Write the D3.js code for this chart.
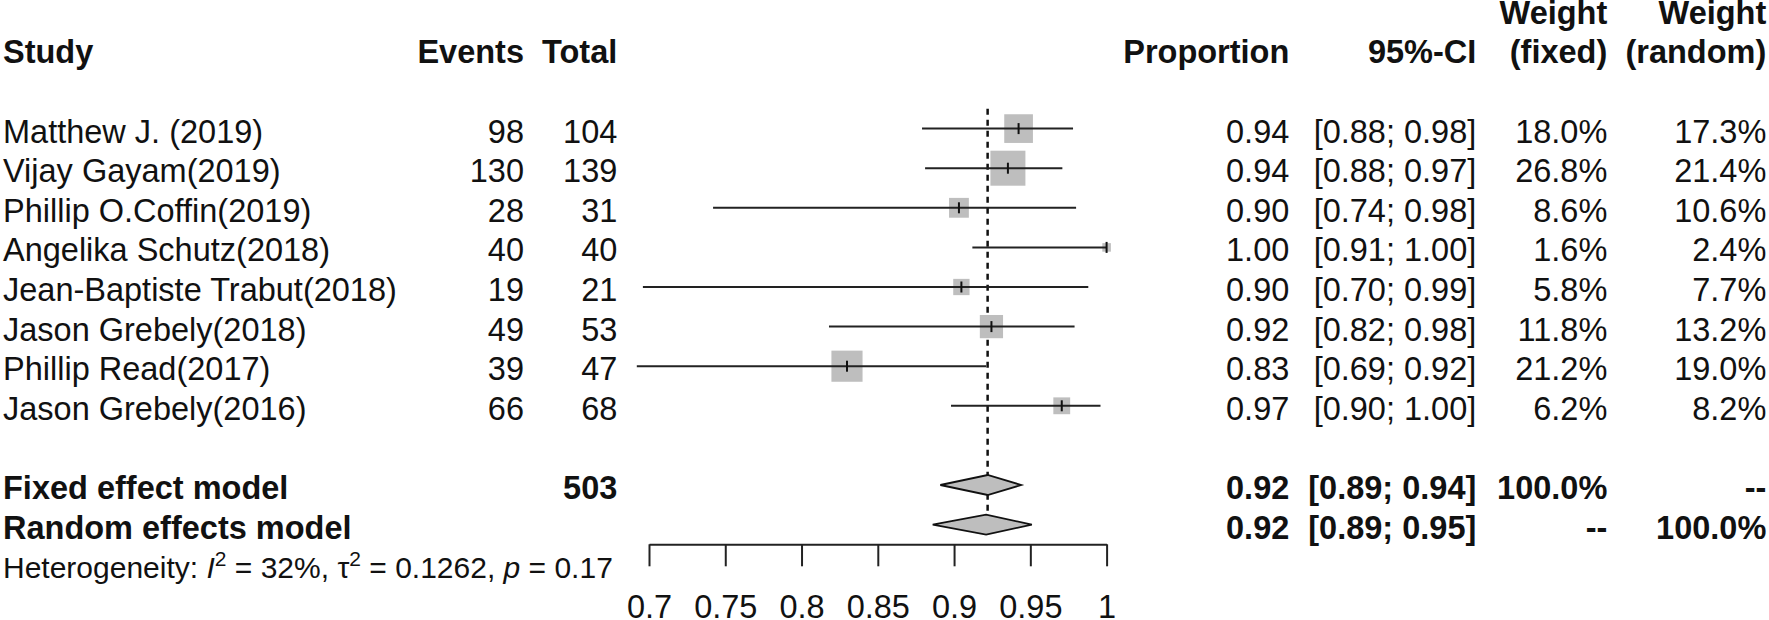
<!DOCTYPE html>
<html lang="en">
<head>
<meta charset="utf-8">
<title>Forest plot</title>
<script src="https://cdn.jsdelivr.net/npm/d3@7"></script>
<style>
  body { margin: 0; background: white; }
  svg text { font-family: "Liberation Sans", Arial, sans-serif; fill: #111; }
  .hdr { font-weight: bold; }
  .bold { font-weight: bold; }
</style>
</head>
<body>
<svg id="chart" width="1769" height="620"></svg>
<script>
// study data
const studies = ["Matthew J. (2019)", "Vijay Gayam(2019)", "Phillip O.Coffin(2019)", "Angelika Schutz(2018)",
                 "Jean-Baptiste Trabut(2018)", "Jason Grebely(2018)", "Phillip Read(2017)", "Jason Grebely(2016)"];
const events = [98, 130, 28, 40, 19, 49, 39, 66];
const totals = [104, 139, 31, 40, 21, 53, 47, 68];
const prop   = [0.9423, 0.9353, 0.9032, 1.000, 0.9048, 0.9245, 0.8298, 0.9706];
const ciLow  = [0.879, 0.881, 0.742, 0.912, 0.696, 0.818, 0.692, 0.898];
const ciHigh = [0.978, 0.971, 0.980, 1.000, 0.988, 0.979, 0.921, 0.996];
const wFixed  = [18.0, 26.8, 8.6, 1.6, 5.8, 11.8, 21.2, 6.2];
const wRandom = [17.3, 21.4, 10.6, 2.4, 7.7, 13.2, 19.0, 8.2];

// pooled estimates
const models   = ["Fixed effect model", "Random effects model"];
const modelEst = [0.922, 0.921];
const modelLow = [0.891, 0.886];
const modelHigh = [0.944, 0.951];
const modelWFixed  = ["100.0%", "--"];
const modelWRandom = ["--", "100.0%"];
const totalN = 503;

const ticks = [0.7, 0.75, 0.8, 0.85, 0.9, 0.95, 1];

const svg = d3.select("#chart");
const FS = 32.5;

// scales
const x = d3.scaleLinear().domain([0.7, 1]).range([649, 1106.6]);
const row = d3.scaleLinear().domain([0, 1]).range([128.6, 168.2]); // row centres
const base = i => row(i) + 14;                                       // text baseline
const box = d3.scaleSqrt().domain([0, 26.8]).range([0, 35]);

const f2 = d3.format(".2f"), f1 = d3.format(".1f");

// columns: right edge x positions
const col = { study: 3, events: 524, total: 617.3, prop: 1289.3, ci: 1476.3, wf: 1607.3, wr: 1766.3 };

function txt(xp, yp, s, anchor, cls, size) {
  return svg.append("text").attr("x", xp).attr("y", yp).attr("text-anchor", anchor || "end")
    .attr("class", cls || null).style("font-size", (size || FS) + "px").text(s);
}

// header
txt(col.study, base(-2), "Study", "start", "hdr");
txt(col.events, base(-2), "Events", "end", "hdr");
txt(col.total, base(-2), "Total", "end", "hdr");
txt(col.prop, base(-2), "Proportion", "end", "hdr");
txt(col.ci, base(-2), "95%-CI", "end", "hdr");
txt(col.wf, base(-3), "Weight", "end", "hdr");
txt(col.wf, base(-2), "(fixed)", "end", "hdr");
txt(col.wr, base(-3), "Weight", "end", "hdr");
txt(col.wr, base(-2), "(random)", "end", "hdr");

// study rows text
studies.forEach((s, i) => {
  txt(col.study, base(i), s, "start");
  txt(col.events, base(i), events[i]);
  txt(col.total, base(i), totals[i]);
  txt(col.prop, base(i), f2(prop[i]));
  txt(col.ci, base(i), "[" + f2(ciLow[i]) + "; " + f2(ciHigh[i]) + "]");
  txt(col.wf, base(i), f1(wFixed[i]) + "%");
  txt(col.wr, base(i), f1(wRandom[i]) + "%");
});

// pooled rows text
models.forEach((m, k) => {
  const i = 9 + k;
  txt(col.study, base(i), m, "start", "bold");
  if (k === 0) txt(col.total, base(i), totalN, "end", "bold");
  txt(col.prop, base(i), f2(modelEst[k]), "end", "bold");
  txt(col.ci, base(i), "[" + f2(modelLow[k]) + "; " + f2(modelHigh[k]) + "]", "end", "bold");
  txt(col.wf, base(i), modelWFixed[k], "end", "bold");
  txt(col.wr, base(i), modelWRandom[k], "end", "bold");
});

// heterogeneity line
const het = svg.append("text").attr("x", col.study).attr("y", base(11)).style("font-size", "30px");
het.append("tspan").text("Heterogeneity: ");
het.append("tspan").style("font-style", "italic").text("I");
het.append("tspan").attr("dy", -12).style("font-size", "21px").text("2");
het.append("tspan").attr("dy", 12).text(" = 32%, \u03c4");
het.append("tspan").attr("dy", -12).style("font-size", "21px").text("2");
het.append("tspan").attr("dy", 12).text(" = 0.1262, ");
het.append("tspan").style("font-style", "italic").text("p");
het.append("tspan").text(" = 0.17");

// dashed line at fixed estimate
svg.append("line")
  .attr("x1", x(modelEst[0])).attr("x2", x(modelEst[0]))
  .attr("y1", row(-0.5)).attr("y2", row(9.72))
  .attr("stroke", "#111").attr("stroke-width", 2.5).attr("stroke-dasharray", "6,5");

// squares
svg.selectAll("rect.sq").data(studies).join("rect").attr("class", "sq")
  .attr("x", (d, i) => x(prop[i]) - box(wFixed[i]) / 2)
  .attr("y", (d, i) => row(i) - box(wFixed[i]) / 2)
  .attr("width", (d, i) => box(wFixed[i]))
  .attr("height", (d, i) => box(wFixed[i]))
  .attr("fill", "#bebebe");

// CI lines
svg.selectAll("line.ci").data(studies).join("line").attr("class", "ci")
  .attr("x1", (d, i) => x(ciLow[i])).attr("x2", (d, i) => x(ciHigh[i]))
  .attr("y1", (d, i) => row(i)).attr("y2", (d, i) => row(i))
  .attr("stroke", "#222").attr("stroke-width", 2);

// estimate ticks
svg.selectAll("line.est").data(studies).join("line").attr("class", "est")
  .attr("x1", (d, i) => x(prop[i])).attr("x2", (d, i) => x(prop[i]))
  .attr("y1", (d, i) => row(i) - 5.5).attr("y2", (d, i) => row(i) + 5.5)
  .attr("stroke", "#111").attr("stroke-width", 2);

// diamonds
models.forEach((m, k) => {
  const yc = row(9 + k), h = 10;
  svg.append("path")
    .attr("d", `M${x(modelLow[k])},${yc} L${x(modelEst[k])},${yc - h} L${x(modelHigh[k])},${yc} L${x(modelEst[k])},${yc + h} Z`)
    .attr("fill", "#bebebe").attr("stroke", "#111").attr("stroke-width", 1.8);
});

// x axis
const axis = svg.append("g").attr("transform", "translate(0,544.3)")
  .call(d3.axisBottom(x).tickValues(ticks).tickFormat(d3.format("~g"))
    .tickSize(22).tickSizeOuter(0).tickPadding(29));
axis.select(".domain").attr("stroke", "#222").attr("stroke-width", 2);
axis.selectAll(".tick line").attr("stroke", "#222").attr("stroke-width", 2);
axis.selectAll(".tick text").style("font-size", FS + "px")
  .style("font-family", "'Liberation Sans', Arial, sans-serif").attr("fill", "#111");
</script>
</body>
</html>
